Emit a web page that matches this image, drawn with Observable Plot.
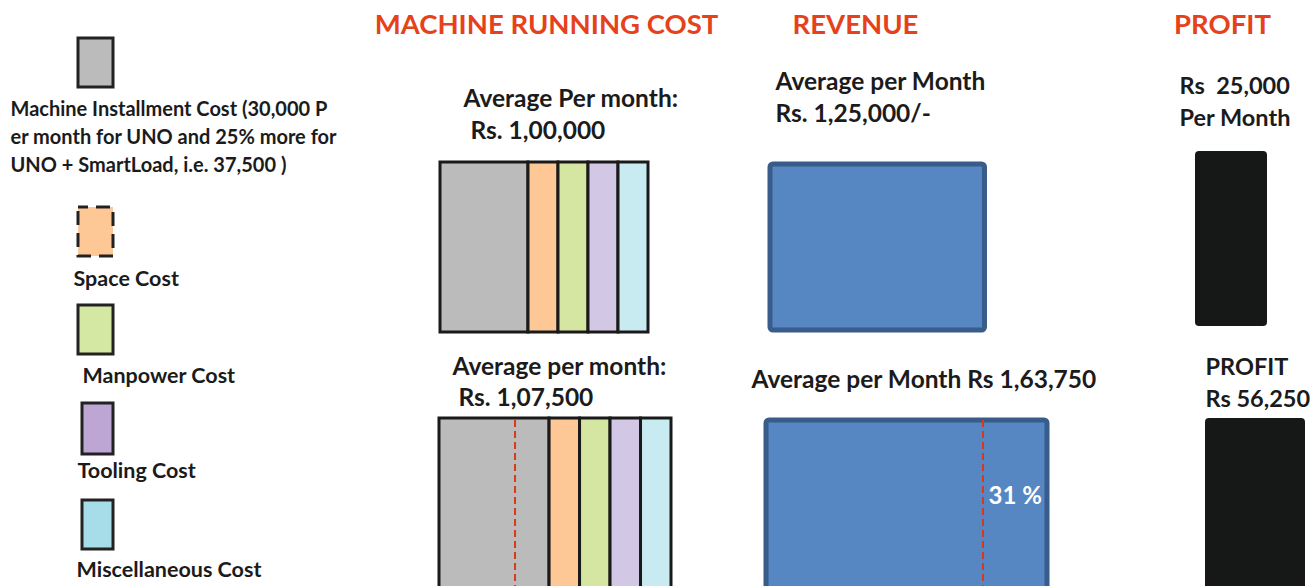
<!DOCTYPE html>
<html><head><meta charset="utf-8">
<script src="https://cdn.jsdelivr.net/npm/d3@7"></script>
<script src="https://cdn.jsdelivr.net/npm/@observablehq/plot@0.6"></script>
<style>html,body{margin:0;padding:0;background:#fff;overflow:hidden}</style>
</head><body><div id="chart"></div>
<script>
// ---------------- DATA ----------------
const costCategories = ["Machine Installment Cost", "Space Cost", "Manpower Cost", "Tooling Cost", "Miscellaneous Cost"];
const scenarios = ["UNO", "UNO + SmartLoad"];
const costUNO = [42300, 14425, 14425, 14425, 14425];        // Rs per month, sums to 1,00,000
const costSmartLoad = [51000, 14125, 14125, 14125, 14125];  // Rs per month, sums to 1,07,500
const costTotals = [100000, 107500];
const revenue = [125000, 163750];
const profit = [25000, 56250];
const costMarker = 35000;      // red dashed divider inside machine cost (UNO + SmartLoad)
const revenueMarker = 125000;  // earlier revenue level, red dashed divider
const revenueGrowth = "31 %";
const titles = ["MACHINE RUNNING COST", "REVENUE", "PROFIT"];
const legendNote = ["Machine Installment Cost (30,000 P", "er month for UNO and 25% more for", "UNO + SmartLoad, i.e. 37,500 )"];
const legendLabels = ["Space Cost", "Manpower Cost", "Tooling Cost", "Miscellaneous Cost"];
const costLabels = [["Average Per month:", "Rs. 1,00,000"], ["Average per month:", "Rs. 1,07,500"]];
const revenueLabels = [["Average per Month", "Rs. 1,25,000/-"], ["Average per Month Rs 1,63,750"]];
const profitLabels = [["Rs  25,000", "Per Month"], ["PROFIT", "Rs 56,250"]];

// ---------------- STYLE ----------------
const barColors = ["#bbbbbb", "#fec896", "#d5e6a3", "#d3c7e6", "#c8ebf2"];
const legendColors = ["#bbbbbb", "#fec896", "#d5e8a3", "#bea6d4", "#a6dde9"];
const titleColor = "#e5421b";
const ink = "#1b1b1b";
const font = "Lato, 'Open Sans', sans-serif";

// ---------------- LAYOUT ----------------
const L = {
  rowTop: [162, 418], rowBottom: [332, 600],
  costX0: [440, 439], costW: [208, 232],
  revX0: [770, 766], revScale: 281 / 163750,
  profitBox: [[1195, 1267, 151, 326], [1205, 1305, 418, 600]],
  legendBox: [[78, 113, 38, 87], [78, 113, 207, 256], [78, 113, 305, 354], [82, 113, 403, 454], [82, 113, 500, 549]],
  legendNote: {x: 10, y: [115, 143, 171]},
  legendLabel: {x: [73, 82, 77, 76], y: [285, 382, 477, 576]},
  titleX: [546, 855, 1222], titleY: 33,
  costText: {x: [[463, 470], [452, 458]], y: [[106, 138], [374, 405]]},
  revText: {x: [[775, 775], [751]], y: [[89, 121], [387]]},
  profText: {x: [[1179, 1179], [1205, 1205]], y: [[93, 125], [374, 406]]},
  growthText: {x: 988, y: 503}
};

// ---------------- BUILD TABLES ----------------
const costRows = [costUNO, costSmartLoad];
const segments = scenarios.flatMap((s, i) => {
  const k = L.costW[i] / costTotals[i];
  let acc = 0;
  return costRows[i].map((v, j) => {
    const x1 = L.costX0[i] + acc * k; acc += v;
    return {scenario: s, category: costCategories[j], value: v, x1, x2: L.costX0[i] + acc * k,
            y1: L.rowTop[i], y2: L.rowBottom[i], fill: barColors[j]};
  });
});
const revBoxes = scenarios.map((s, i) => ({scenario: s, value: revenue[i],
  x1: L.revX0[i], x2: L.revX0[i] + revenue[i] * L.revScale, y1: L.rowTop[i] + 2, y2: L.rowBottom[i] - 2}));
const profBoxes = scenarios.map((s, i) => ({scenario: s, value: profit[i],
  x1: L.profitBox[i][0], x2: L.profitBox[i][1], y1: L.profitBox[i][2], y2: L.profitBox[i][3]}));
const legend = costCategories.map((c, j) => ({category: c, fill: legendColors[j],
  x1: L.legendBox[j][0], x2: L.legendBox[j][1], y1: L.legendBox[j][2], y2: L.legendBox[j][3], dashed: j === 1}));
const markers = [
  {x: L.costX0[1] + costMarker * L.costW[1] / costTotals[1], y1: L.rowTop[1] + 2, y2: 600},
  {x: L.revX0[1] + revenueMarker * L.revScale + 2, y1: L.rowTop[1] + 2, y2: 600}
];

const titleText = titles.map((t, i) => ({text: t, x: L.titleX[i], y: L.titleY}));
const noteText = legendNote.map((t, i) => ({text: t, x: L.legendNote.x, y: L.legendNote.y[i]}));
const labelText = legendLabels.map((t, i) => ({text: t, x: L.legendLabel.x[i], y: L.legendLabel.y[i]}));
const bodyText = [
  ...costLabels.flatMap((ls, i) => ls.map((t, j) => ({text: t, x: L.costText.x[i][j], y: L.costText.y[i][j]}))),
  ...revenueLabels.flatMap((ls, i) => ls.map((t, j) => ({text: t, x: L.revText.x[i][j], y: L.revText.y[i][j]})))
];
const profitText = profitLabels.flatMap((ls, i) => ls.map((t, j) => ({text: t, x: L.profText.x[i][j], y: L.profText.y[i][j]})));

const chart = Plot.plot({
  width: 1312, height: 586, margin: 0,
  x: {domain: [0, 1312], range: [0, 1312], axis: null},
  y: {domain: [0, 586], range: [0, 586], axis: null},
  color: {type: "identity"},
  style: {background: "white", fontFamily: font},
  marks: [
    // legend swatches
    Plot.rect(legend.filter(d => !d.dashed), {x1: "x1", x2: "x2", y1: "y1", y2: "y2", fill: "fill", stroke: "#222", strokeWidth: 3}),
    Plot.rect(legend.filter(d => d.dashed), {x1: "x1", x2: "x2", y1: "y1", y2: "y2", fill: "fill", stroke: "#222", strokeWidth: 3, strokeDasharray: "14,8", strokeDashoffset: 4}),
    // cost segments
    Plot.rect(segments, {x1: "x1", x2: "x2", y1: "y1", y2: "y2", fill: "fill", stroke: "#1a1a1a", strokeWidth: 3, clip: true}),
    // revenue boxes
    Plot.rect(revBoxes, {x1: "x1", x2: "x2", y1: "y1", y2: "y2", fill: "#5687c2", stroke: "#385d8a", strokeWidth: 5, rx: 3, clip: true}),
    // profit boxes
    Plot.rect(profBoxes, {x1: "x1", x2: "x2", y1: "y1", y2: "y2", fill: "#161817", rx: 4, clip: true}),
    // red dashed markers
    Plot.ruleX(markers, {x: "x", y1: "y1", y2: "y2", stroke: "#d8381c", strokeWidth: 2, strokeDasharray: "7,4", clip: true}),
    // texts
    Plot.text(titleText, {x: "x", y: "y", text: "text", textAnchor: "middle", lineAnchor: "bottom", fontSize: 27.5, fontWeight: "bold", fill: titleColor}),
    Plot.text(noteText, {x: "x", y: "y", text: "text", textAnchor: "start", lineAnchor: "bottom", fontSize: 20, fontWeight: "bold", fill: ink}),
    Plot.text(labelText, {x: "x", y: "y", text: "text", textAnchor: "start", lineAnchor: "bottom", fontSize: 21.5, fontWeight: "bold", fill: ink}),
    Plot.text(bodyText, {x: "x", y: "y", text: "text", textAnchor: "start", lineAnchor: "bottom", fontSize: 24.5, fontWeight: "bold", fill: ink}),
    Plot.text(profitText, {x: "x", y: "y", text: "text", textAnchor: "start", lineAnchor: "bottom", fontSize: 23.5, fontWeight: "bold", fill: ink}),
    Plot.text([{text: revenueGrowth, x: L.growthText.x, y: L.growthText.y}], {x: "x", y: "y", text: "text", textAnchor: "start", lineAnchor: "bottom", fontSize: 24, fontWeight: "bold", fill: "white"})
  ]
});
document.getElementById("chart").append(chart);
</script>
</body></html>
